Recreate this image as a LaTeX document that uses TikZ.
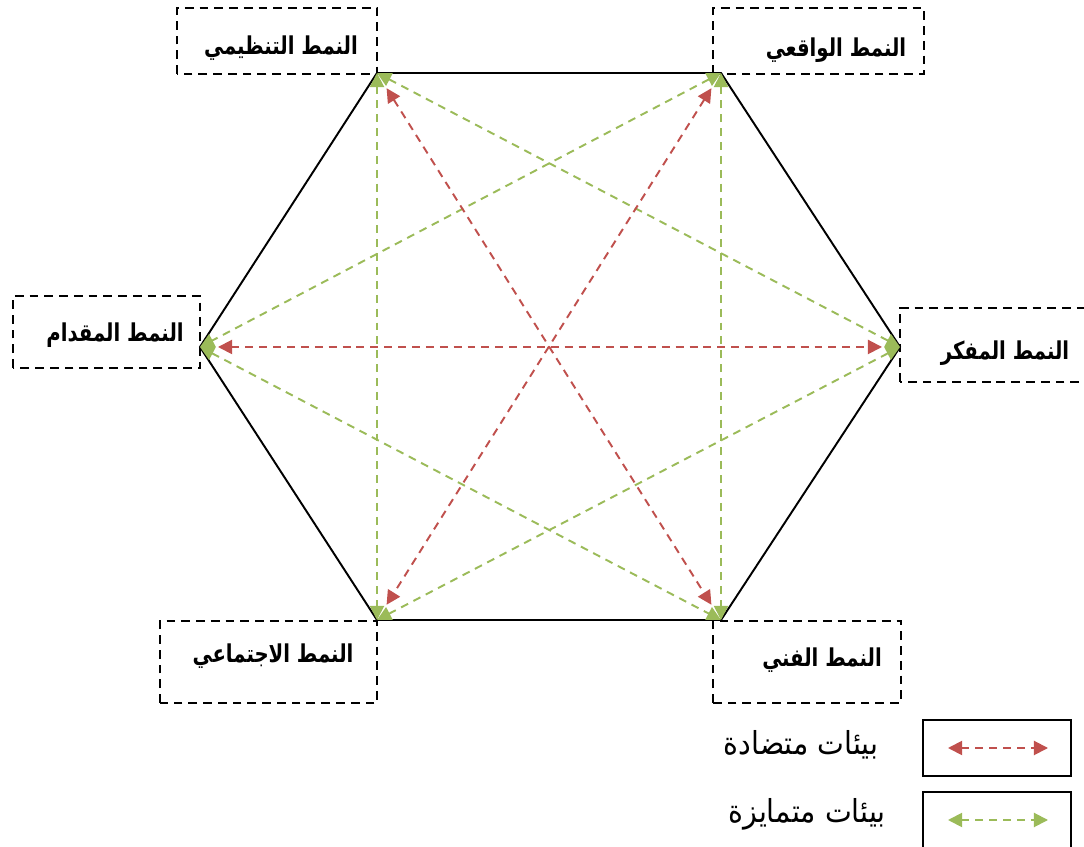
\documentclass[tikz,border=0pt]{standalone}
\usepackage{fontspec}
\usepackage{tikz}
\usetikzlibrary{arrows.meta}
\TeXXeTstate=1
\newfontfamily\arabicfont[Script=Arabic,FakeStretch=0.8]{DejaVu Sans}
\newfontfamily\keyfont[Script=Arabic,FakeStretch=0.9]{DejaVu Sans}
\definecolor{oppred}{RGB}{192,80,77}
\definecolor{simgreen}{RGB}{155,187,89}
\tikzstyle{type box}=[line width=1.2pt,dash pattern=on 5pt off 3.4pt]
\tikzstyle{type text}=[inner sep=0pt,anchor=base,font=\arabicfont\bfseries\fontsize{14}{16}\selectfont]
\tikzstyle{legend text}=[inner sep=0pt,anchor=base,font=\keyfont\fontsize{18}{20}\selectfont]
\tikzstyle{opposite}=[oppred,line width=1.1pt,dash pattern=on 4.5pt off 3.4pt,{Triangle[length=8pt,width=8pt]}-{Triangle[length=8pt,width=8pt]},shorten >=0.36cm,shorten <=0.36cm]
\tikzstyle{similar}=[simgreen,line width=1.1pt,dash pattern=on 4.5pt off 3.4pt,{Triangle[length=8pt,width=8pt]}-{Triangle[length=8pt,width=8pt]}]

\begin{document}
\begin{tikzpicture}[x=0.02cm,y=0.02cm]
\clip (0,0) rectangle (1084,847);
% corners of the hexagon
\coordinate (tl) at (377,774);
\coordinate (tr) at (721,774);
\coordinate (r) at (900,500);
\coordinate (br) at (721,227);
\coordinate (bl) at (377,227);
\coordinate (l) at (200,500);
\draw[line width=1.1pt] (tl) -- (tr) -- (r) -- (br) -- (bl) -- (l) -- cycle;
% type boxes
\draw[type box] (177,773) rectangle (377,839);
\draw[type box] (713,773) rectangle (924,839);
\draw[type box] (13,479) rectangle (200,551);
\draw[type box] (900,465) rectangle (1100,539);
\draw[type box] (160,144) rectangle (377,226);
\draw[type box] (713,144) rectangle (901,226);
\node[type text] (tltext) at (281,792) {\beginR النمط التنظيمي\endR};
\node[type text] (trtext) at (836,790) {\beginR النمط الواقعي\endR};
\node[type text] (ltext) at (115,505) {\beginR النمط المقدام\endR};
\node[type text] (rtext) at (1005,487) {\beginR النمط المفكر\endR};
\node[type text] (bltext) at (273,184) {\beginR النمط الاجتماعي\endR};
\node[type text] (brtext) at (822,180) {\beginR النمط الفني\endR};
% relations
\draw[similar] (tl) -- (bl);
\draw[similar] (tr) -- (br);
\draw[similar] (tl) -- (r);
\draw[similar] (tr) -- (l);
\draw[similar] (l) -- (br);
\draw[similar] (r) -- (bl);
\draw[opposite] (tl) -- (br);
\draw[opposite] (tr) -- (bl);
\draw[opposite] (l) -- (r);
% legend
\draw[line width=1.1pt] (923,71) rectangle (1071,127);
\draw[line width=1.1pt] (923,-10) rectangle (1071,55);
\coordinate (k1a) at (948,99);
\coordinate (k1b) at (1048,99);
\coordinate (k2a) at (948,27);
\coordinate (k2b) at (1048,27);
\draw[opposite,shorten >=0pt,shorten <=0pt] (k1a) -- (k1b);
\draw[similar] (k2a) -- (k2b);
\node[legend text] (oppkey) at (801,92) {\beginR بيئات متضادة\endR};
\node[legend text] (simkey) at (807,24) {\beginR بيئات متمايزة\endR};
\end{tikzpicture}
\end{document}
